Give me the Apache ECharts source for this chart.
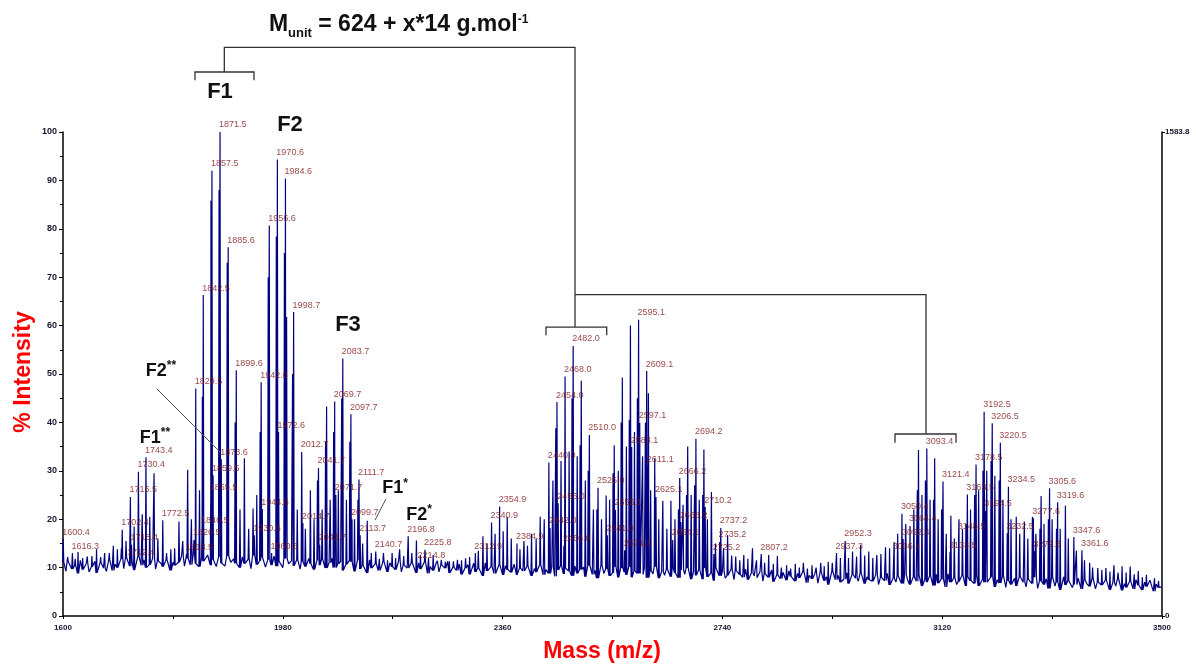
<!DOCTYPE html>
<html>
<head>
<meta charset="utf-8">
<script src="https://cdn.jsdelivr.net/npm/echarts@6/dist/echarts.min.js"></script>
<style>
html,body{margin:0;padding:0;background:#fff;}
#chart{width:1196px;height:667px;}
</style>
</head>
<body>
<div id="chart"></div>
<script>
// ---- axis values ----
const xTickValues = [1600, 1790, 1980, 2170, 2360, 2550, 2740, 2930, 3120, 3310, 3500];
const xLabelValues = [1600, 1980, 2360, 2740, 3120, 3500];
const rightAxisMax = 1583.8;

// ---- baseline (% intensity), sampled every 5 m/z from 1600 ----
const baselineStart = 1600;
const baselineStep = 5;
const baselineLevels = [
  11.2, 9.2, 11.3, 9.7, 10.5, 8.8, 11.5, 9.6, 10.8, 9.1, 10.2, 11.3, 8.9, 11.0, 9.9, 9.2, 11.6, 9.4, 10.7, 10.0,
  11.8, 9.8, 12.1, 10.3, 11.3, 9.5, 12.4, 10.5, 11.6, 10.0, 10.6, 11.9, 9.7, 11.4, 10.8, 10.2, 11.6, 9.4, 11.1, 10.5,
  11.1, 12.4, 10.3, 11.9, 10.6, 12.7, 10.8, 10.2, 12.1, 11.3, 12.6, 10.5, 11.6, 10.2, 12.2, 10.9, 10.3, 12.4, 11.1, 11.8,
  10.9, 10.0, 12.2, 10.8, 11.7, 9.8, 12.5, 10.6, 11.4, 12.1, 10.1, 11.6, 10.5, 12.4, 10.3, 11.3, 10.0, 11.9, 10.8, 11.4,
  10.4, 11.6, 9.7, 11.2, 10.2, 11.9, 10.8, 9.6, 11.5, 10.5, 11.8, 9.9, 11.0, 11.9, 10.0, 10.8, 11.3, 9.4, 10.7, 11.5,
  11.2, 9.2, 11.5, 9.7, 10.5, 8.9, 11.6, 9.9, 10.8, 9.4, 10.0, 11.3, 9.1, 11.0, 10.2, 9.6, 11.3, 9.1, 10.5, 9.9,
  9.6, 11.0, 8.9, 10.4, 9.7, 11.2, 8.8, 10.2, 9.4, 10.9, 9.1, 10.5, 9.9, 11.3, 8.9, 10.1, 9.4, 10.7, 8.6, 9.9,
  10.6, 8.6, 10.9, 9.1, 9.9, 8.3, 11.0, 9.3, 10.2, 8.8, 9.4, 10.7, 8.5, 10.4, 9.6, 9.0, 10.7, 8.5, 9.9, 9.3,
  9.0, 10.3, 8.3, 9.8, 9.1, 10.6, 8.5, 9.6, 8.8, 10.1, 8.2, 9.5, 10.4, 8.7, 9.9, 9.3, 8.3, 10.3, 8.8, 9.6,
  10.1, 8.1, 10.4, 8.6, 9.4, 7.8, 10.5, 8.8, 9.7, 8.3, 8.9, 10.2, 8.0, 9.9, 9.1, 8.5, 10.2, 8.0, 9.4, 8.8,
  8.6, 9.9, 7.9, 9.4, 8.7, 10.2, 7.8, 9.2, 8.4, 9.7, 8.1, 10.0, 8.9, 7.9, 9.5, 8.6, 9.9, 7.6, 9.1, 8.4,
  9.6, 7.6, 9.9, 8.1, 8.9, 7.3, 10.0, 8.3, 9.2, 7.8, 8.4, 9.7, 7.5, 9.4, 8.6, 8.0, 9.7, 7.5, 8.9, 8.3,
  7.9, 9.2, 7.2, 8.7, 8.0, 9.5, 7.1, 8.5, 7.7, 9.0, 7.4, 9.3, 8.2, 7.2, 8.8, 7.9, 9.2, 6.9, 8.4, 7.7,
  8.8, 6.8, 9.1, 7.3, 8.1, 6.5, 9.2, 7.5, 8.4, 7.0, 7.6, 8.9, 6.7, 8.6, 7.8, 7.2, 8.9, 6.7, 8.1, 7.5,
  7.2, 8.5, 6.5, 8.0, 7.3, 8.8, 6.4, 7.8, 7.0, 8.3, 6.7, 8.6, 7.5, 6.5, 8.1, 7.2, 8.5, 6.2, 7.7, 7.0,
  8.3, 6.3, 8.6, 6.8, 7.6, 6.0, 8.7, 7.0, 7.9, 6.5, 7.1, 8.4, 6.2, 8.1, 7.3, 6.7, 8.4, 6.2, 7.6, 7.0,
  6.7, 8.0, 6.0, 7.5, 6.8, 8.3, 5.9, 7.3, 6.5, 7.8, 6.2, 8.1, 7.0, 6.0, 7.6, 6.7, 8.0, 5.7, 7.2, 6.5,
  7.7, 5.7, 8.0, 6.2, 7.0, 5.4, 8.1, 6.4, 7.3, 5.9, 6.5, 7.8, 5.6, 7.5, 6.7, 6.1, 7.8, 5.6, 7.0, 6.4,
  6.1, 7.4, 5.4, 6.9, 6.2, 7.7, 5.3, 6.7, 5.9, 7.2, 5.6, 7.5, 6.4, 5.4, 7.0, 6.1, 7.4, 5.1, 6.6, 5.9,
  6.0
];

// ---- annotated peaks: [m/z, % intensity] ----
const labeledPeaks = [
  [1600.4, 15.9], [1616.3, 13.0], [1702.4, 17.8], [1712.4, 11.7], [1716.5, 24.6], [1718.4, 14.7],
  [1730.4, 29.8], [1743.4, 32.8], [1772.5, 19.8], [1813.5, 12.8], [1826.5, 15.7], [1829.5, 47.0],
  [1840.5, 18.2], [1842.5, 66.3], [1855.5, 25.2], [1857.5, 92.0], [1859.5, 29.1], [1871.5, 100.0],
  [1873.6, 32.4], [1885.6, 76.2], [1899.6, 50.8], [1930.6, 16.7], [1942.6, 48.3], [1944.6, 22.1],
  [1956.6, 80.7], [1960.6, 13.0], [1970.6, 94.3], [1972.6, 38.0], [1984.6, 90.4], [1998.7, 62.8],
  [2012.7, 33.9], [2014.7, 19.2], [2041.7, 30.6], [2043.7, 14.7], [2069.7, 44.3], [2071.7, 25.0],
  [2083.7, 53.2], [2097.7, 41.7], [2099.7, 20.0], [2111.7, 28.2], [2113.7, 16.7], [2140.7, 13.3],
  [2196.8, 16.5], [2214.8, 11.0], [2225.8, 13.7], [2312.9, 13.0], [2340.9, 19.3], [2354.9, 22.6],
  [2384.9, 15.0], [2440.0, 31.7], [2442.0, 18.2], [2454.0, 44.2], [2456.0, 23.3], [2466.0, 14.5],
  [2468.0, 49.5], [2482.0, 55.8], [2510.0, 37.4], [2525.0, 26.5], [2541.0, 16.7], [2555.1, 21.9],
  [2571.1, 13.6], [2583.1, 34.9], [2595.1, 61.2], [2597.1, 39.9], [2609.1, 50.6], [2611.1, 30.8],
  [2625.1, 24.6], [2654.1, 15.7], [2666.2, 28.5], [2668.2, 19.4], [2694.2, 36.6], [2710.2, 22.5],
  [2725.2, 12.8], [2735.2, 15.3], [2737.2, 18.2], [2807.2, 12.8], [2937.3, 13.0], [2952.3, 15.5],
  [3036.4, 13.0], [3050.4, 21.1], [3052.4, 15.9], [3064.4, 18.6], [3093.4, 34.6], [3121.4, 27.8],
  [3133.5, 13.2], [3148.5, 17.1], [3163.5, 25.1], [3178.5, 31.3], [3192.5, 42.2], [3194.5, 21.7],
  [3206.5, 39.8], [3220.5, 35.8], [3232.5, 17.1], [3234.5, 26.7], [3277.6, 20.2], [3279.6, 13.4],
  [3305.6, 26.4], [3319.6, 23.5], [3347.6, 16.3], [3361.6, 13.6]
];

// ---- remaining resolved peaks: [m/z, % intensity] ----
const otherPeaks = [
  [1608, 12.2], [1626, 13.2], [1642, 12.3], [1650, 12.4], [1658, 13.8], [1665, 12.2], [1672, 13.0],
  [1680, 13.0], [1687, 14.5], [1694, 13.8], [1709, 15.5], [1723, 18.5], [1737, 21.0], [1750, 20.5],
  [1757.4, 29.5], [1764, 16.0], [1779, 13.0], [1786.5, 13.8], [1793, 14.0], [1800.5, 19.5], [1807, 15.5],
  [1815.5, 30.2], [1822, 20.0], [1836, 26.0], [1840.9, 45.3], [1855.8, 85.8], [1869.8, 88.0], [1883.9, 73.0],
  [1897.6, 40.0], [1906, 22.0], [1913.6, 32.6], [1921, 18.0], [1928.6, 22.2], [1935, 25.0], [1940.8, 38.0],
  [1954.8, 70.0], [1968.8, 78.4], [1982.8, 75.0], [1986.6, 61.8], [1996.9, 50.0], [2005, 22.0], [2019, 18.0],
  [2027.7, 26.0], [2034, 20.0], [2039.9, 28.0], [2048, 22.0], [2053.9, 36.0], [2055.7, 43.3], [2062, 24.0],
  [2067.9, 38.0], [2076, 26.0], [2081.9, 45.0], [2090, 24.0], [2095.9, 36.0], [2104, 20.0], [2109.9, 24.0],
  [2118, 15.0], [2126, 19.7], [2133, 13.0], [2154, 13.0], [2169, 13.0], [2182, 13.8], [2211, 15.6],
  [2240, 12.6], [2254, 11.6], [2268, 11.3], [2282, 11.6], [2296, 11.9], [2326, 16.5], [2368, 20.5],
  [2397, 15.5], [2410, 17.0], [2425, 20.5], [2452, 38.8], [2480, 45.0], [2494, 35.3], [2496, 48.6],
  [2508, 30.0], [2523, 22.0], [2539, 24.9], [2551, 29.5], [2553, 35.3], [2565, 40.0], [2567, 49.3],
  [2579, 40.5], [2581, 60.0], [2593, 45.0], [2607, 40.0], [2612.1, 46.0], [2623, 32.6], [2637, 23.8],
  [2651, 23.8], [2664, 22.0], [2678, 25.0], [2680, 35.0], [2692, 27.0], [2706, 25.0], [2708, 34.4],
  [2721, 25.6], [2749, 16.7], [2763, 12.3], [2777, 12.6], [2792, 14.0], [2820, 12.6], [2835, 12.4],
  [2851, 10.5], [2866, 10.8], [2880, 11.0], [2895, 10.5], [2910, 11.0], [2923, 11.2], [2965, 13.3],
  [2979, 14.7], [2993, 13.3], [3007, 12.6], [3022, 14.2], [3037, 15.3], [3077, 26.0], [3079, 34.3],
  [3091, 28.0], [3105, 24.0], [3107, 32.6], [3119, 22.0], [3135, 20.7], [3149, 20.0], [3161, 19.0],
  [3176, 25.0], [3190.5, 30.0], [3204.5, 32.0], [3218.5, 28.0], [3248, 20.5], [3262, 19.5], [3276, 20.5],
  [3289, 18.0], [3291, 24.8], [3303.6, 20.0], [3317.6, 18.0], [3333, 22.8], [3375, 11.0], [3389, 9.9],
  [3403, 9.9], [3417, 10.5], [3431, 10.3], [3445, 10.2], [3459, 9.3], [3473, 8.5], [3487, 7.8]
];

// ---- small intermediate peaks between the main series: [m/z, % intensity] ----
const minorPeaks = [
  [1621, 11.8], [1634, 12.0], [1701, 14.0], [2147, 11.8], [2161, 11.5], [2175, 12.0], [2189, 12.4],
  [2203, 13.0], [2218, 12.5], [2232, 12.0], [2247, 11.4], [2261, 11.2], [2275, 11.3], [2289, 11.5],
  [2303, 12.2], [2318, 13.5], [2333, 15.0], [2347, 17.0], [2361, 17.5], [2375, 16.0], [2390, 13.8],
  [2403, 14.5], [2418, 16.0], [2432, 20.0], [2447, 28.0], [2461, 32.0], [2475, 34.0], [2489, 33.0],
  [2503, 28.0], [2517, 22.0], [2531, 20.0], [2545, 24.0], [2560, 30.0], [2574, 35.0], [2588, 38.0],
  [2602, 33.0], [2616, 26.0], [2630, 20.0], [2644, 18.0], [2658, 20.0], [2672, 23.0], [2686, 25.0],
  [2700, 24.0], [2714, 20.0], [2728, 15.0], [2742, 14.0], [2756, 12.5], [2770, 11.5], [2784, 11.8],
  [2799, 11.5], [2813, 11.0], [2828, 10.8], [2842, 10.0], [2858, 9.8], [2873, 10.0], [2887, 9.8],
  [2902, 10.0], [2916, 10.3], [2930, 11.0], [2944, 12.0], [2958, 12.0], [2972, 12.3], [2986, 12.5],
  [3000, 12.0], [3014, 12.8], [3029, 14.0], [3043, 17.0], [3057, 19.0], [3071, 22.0], [3085, 25.0],
  [3099, 24.0], [3113, 20.0], [3127, 17.0], [3141, 16.0], [3155, 18.0], [3169, 22.0], [3183, 26.0],
  [3197, 30.0], [3211, 29.0], [3225, 24.0], [3239, 20.0], [3254, 17.0], [3268, 16.0], [3282, 17.0],
  [3296, 19.0], [3310, 20.0], [3324, 18.0], [3338, 16.0], [3352, 13.5], [3366, 11.5], [3380, 10.0],
  [3396, 9.5], [3410, 9.2], [3424, 9.0], [3438, 9.0], [3452, 8.6], [3466, 8.0], [3480, 7.5], [3494, 7.2]
];

// nearest baseline sample under a given m/z
function baselineAt(mz) {
  let i = Math.round((mz - baselineStart) / baselineStep);
  i = Math.max(0, Math.min(baselineLevels.length - 1, i));
  return baselineLevels[i];
}

// stick spectrum: baseline samples plus a narrow spike for every peak
function buildTrace() {
  const pts = baselineLevels.map((v, i) => [baselineStart + i * baselineStep, v]);
  labeledPeaks.concat(otherPeaks, minorPeaks).forEach(([m, h]) => {
    const b = baselineAt(m);
    pts.push([m - 0.9, b], [m, h], [m + 0.9, b]);
  });
  pts.sort((a, b) => a[0] - b[0]);
  return pts;
}

const FONT = 'Arial, "Liberation Sans", sans-serif';
const chart = echarts.init(document.getElementById('chart'), null, { renderer: 'canvas' });

chart.setOption({
  animation: false,
  backgroundColor: '#ffffff',
  grid: { left: 63, right: 34, top: 132, bottom: 51, containLabel: false },
  xAxis: {
    type: 'value', min: 1600, max: 3500,
    axisLine: { show: true, onZero: false, lineStyle: { color: '#000', width: 1.5 } },
    axisTick: { show: true, customValues: xTickValues, length: 3, lineStyle: { color: '#000' } },
    axisLabel: {
      customValues: xLabelValues, fontSize: 8, fontWeight: 'bold', color: '#15152e', margin: 8,
      fontFamily: FONT, formatter: v => String(v)
    },
    splitLine: { show: false }
  },
  yAxis: [
    {
      type: 'value', min: 0, max: 100, interval: 10, position: 'left',
      axisLine: { show: true, lineStyle: { color: '#000', width: 1.5 } },
      axisTick: { show: true, length: 4, lineStyle: { color: '#000' } },
      minorTick: { show: true, splitNumber: 2, length: 3, lineStyle: { color: '#000' } },
      axisLabel: { fontSize: 9, fontWeight: 'bold', color: '#15152e', margin: 6, fontFamily: FONT },
      splitLine: { show: false }
    },
    {
      type: 'value', min: 0, max: rightAxisMax, position: 'right',
      axisLine: { show: true, lineStyle: { color: '#000', width: 1.5 } },
      axisTick: { show: true, customValues: [0, rightAxisMax], length: 3, lineStyle: { color: '#000' } },
      axisLabel: {
        customValues: [0, rightAxisMax], fontSize: 8, fontWeight: 'bold', color: '#15152e', margin: 3,
        padding: [0, 0, 8, 0], fontFamily: FONT, formatter: v => (v === 0 ? '0' : v.toFixed(1))
      },
      splitLine: { show: false }
    }
  ],
  series: [
    {
      type: 'line', data: buildTrace(), symbol: 'none', sampling: null,
      lineStyle: { width: 1.2, color: '#000080' }, z: 2, silent: true
    },
    {
      type: 'scatter', data: labeledPeaks, symbol: 'circle', symbolSize: 1, silent: true, z: 3,
      itemStyle: { color: 'rgba(0,0,0,0)' },
      label: {
        show: true, position: 'top', distance: 2, align: 'left', offset: [-1, 0],
        formatter: p => p.value[0].toFixed(1),
        fontSize: 9, color: '#7d1414', fontFamily: FONT
      }
    }
  ]
});

// ---- annotations placed in data space ----
const P = (m, v) => chart.convertToPixel({ xAxisIndex: 0, yAxisIndex: 0 }, [m, v]);
const ANN = '#333333';

function poly(points) {
  return {
    type: 'polyline', silent: true, z: 10,
    shape: { points: points.map(p => P(p[0], p[1])) },
    style: { stroke: ANN, lineWidth: 1.3, fill: null }
  };
}
function bracket(m0, m1, top, drop) {
  return poly([[m0, top - drop], [m0, top], [m1, top], [m1, top - drop]]);
}
function fLabel(text, m, v, size) {
  const p = P(m, v);
  return {
    type: 'text', silent: true, z: 11, x: p[0], y: p[1],
    style: { text: text, font: 'bold ' + size + 'px ' + FONT, fill: '#111', align: 'center', verticalAlign: 'middle' }
  };
}
function starLabel(base, stars, m, v) {
  const p = P(m, v);
  return {
    type: 'text', silent: true, z: 11, x: p[0], y: p[1],
    style: {
      text: '{b|' + base + '}{s|' + stars + '}', align: 'center', verticalAlign: 'middle',
      rich: {
        b: { fontSize: 18, fontWeight: 'bold', fontFamily: FONT, fill: '#111', lineHeight: 22, verticalAlign: 'middle' },
        s: { fontSize: 12, fontWeight: 'bold', fontFamily: FONT, fill: '#111', lineHeight: 22, verticalAlign: 'top' }
      }
    }
  };
}
function leader(a, b) {
  const p = P(a[0], a[1]), q = P(b[0], b[1]);
  return {
    type: 'line', silent: true, z: 10,
    shape: { x1: p[0], y1: p[1], x2: q[0], y2: q[1] },
    style: { stroke: '#555', lineWidth: 1 }
  };
}

const titlePos = P(1956, 122.1);
const graphics = [
  // series tree
  bracket(1828.2, 1930.2, 112.4, 1.7),
  poly([[1878.9, 112.4], [1878.9, 117.5], [2485.2, 117.5], [2485.2, 59.7]]),
  bracket(2435.0, 2540.0, 59.7, 1.7),
  poly([[2485.2, 66.4], [3092.0, 66.4], [3092.0, 37.6]]),
  bracket(3038.4, 3143.9, 37.6, 1.8),
  // family labels
  fLabel('F1', 1871.4, 108.3, 22),
  fLabel('F2', 1992.4, 101.4, 22),
  fLabel('F3', 2092.7, 60.1, 22),
  starLabel('F2', '**', 1769.4, 50.6),
  starLabel('F1', '**', 1759.0, 36.8),
  starLabel('F1', '*', 2174.0, 26.4),
  starLabel('F2', '*', 2215.5, 20.9),
  leader([1762.5, 46.9], [1871.4, 33.9]),
  leader([2158.4, 24.2], [2139.4, 19.8]),
  // formula title
  {
    type: 'text', silent: true, z: 11, x: titlePos[0], y: titlePos[1],
    style: {
      text: '{m|M}{sub|unit}{m| = 624 + x*14 g.mol}{sup|-1}', align: 'left', verticalAlign: 'middle',
      rich: {
        m: { fontSize: 23, fontWeight: 'bold', fontFamily: FONT, fill: '#111', lineHeight: 30, verticalAlign: 'middle' },
        sub: { fontSize: 13, fontWeight: 'bold', fontFamily: FONT, fill: '#111', lineHeight: 30, verticalAlign: 'bottom' },
        sup: { fontSize: 12, fontWeight: 'bold', fontFamily: FONT, fill: '#111', lineHeight: 30, verticalAlign: 'top', padding: [4, 0, 0, 0] }
      }
    }
  },
  // axis titles
  {
    type: 'text', silent: true, z: 11, x: 24, y: 372, rotation: Math.PI / 2,
    style: { text: '% Intensity', font: 'bold 23px ' + FONT, fill: '#ff0000', align: 'center', verticalAlign: 'middle' }
  },
  {
    type: 'text', silent: true, z: 11, x: 602, y: 652,
    style: { text: 'Mass (m/z)', font: 'bold 23px ' + FONT, fill: '#ff0000', align: 'center', verticalAlign: 'middle' }
  }
];
chart.setOption({ graphic: graphics });
</script>
</body>
</html>
